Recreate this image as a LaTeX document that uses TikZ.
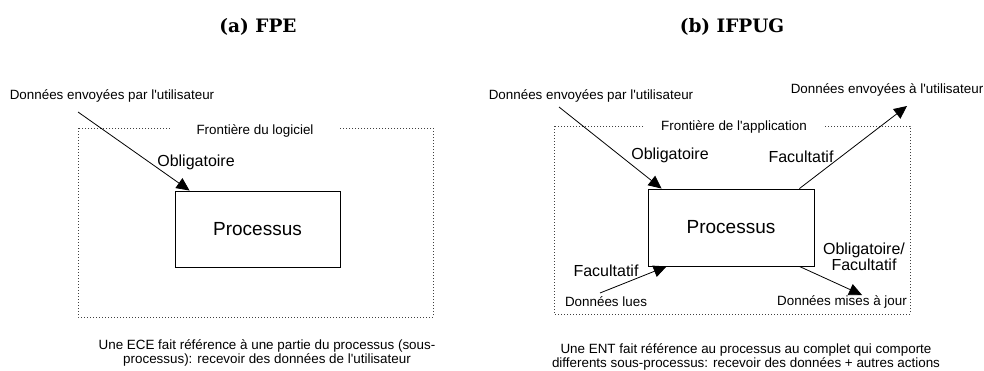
\documentclass[tikz,border=0pt]{standalone}
\usepackage{fontspec}
\setmainfont{Liberation Sans}[Ligatures=TeXOff]
\newfontfamily\titlefont{DejaVu Serif}
\usepackage{tikz}
\usetikzlibrary{arrows.meta}

\begin{document}
\begin{tikzpicture}[x=1pt,y=-1pt,
	lbl/.style={inner sep=1pt,font=\fontsize{13.4}{14}\selectfont},
	big/.style={inner sep=1pt,font=\fontsize{16}{16}\selectfont},
	ttl/.style={inner sep=1pt,font=\titlefont\bfseries\fontsize{18.5}{19}\selectfont},
	proc/.style={draw,line width=0.9pt,minimum width=165pt,minimum height=76pt,inner sep=0pt,font=\fontsize{19}{20}\selectfont},
	bound/.style={draw=black!75,line width=0.9pt,dash pattern=on 1pt off 2pt},
	front/.style={lbl,fill=white,inner ysep=2pt},
	flow/.style={-{Triangle[length=13pt,width=12pt]},line width=0.8pt}]
	\useasboundingbox (0,0) rectangle (984,370);
	%
	% (a) FPE
	\fill (258,27) node[ttl] (titleA) {(a) FPE};
	\draw[bound] (78,128) rectangle (433,317);
	\fill (255,131) node[front,inner xsep=27pt] (frontA) {Frontière du logiciel};
	\fill (112,96) node[lbl] (userinA) {Données envoyées par l'utilisateur};
	\fill (196,162) node[big] (obligA) {Obligatoire};
	\fill (257.5,229) node[proc] (procA) {Processus};
	\fill (267,353) node[lbl,align=center] (captionA) {Une ECE fait référence à une partie du processus (sous-\\processus): recevoir des données de l'utilisateur};
	\coordinate (inA) at (78,112);
	%
	% (b) IFPUG
	\fill (732,27) node[ttl] (titleB) {(b) IFPUG};
	\draw[bound] (554,126) rectangle (910,314);
	\fill (734,127) node[front,inner xsep=16pt] (frontB) {Frontière de l'application};
	\fill (591,96) node[lbl] (userinB) {Données envoyées par l'utilisateur};
	\fill (887,90) node[lbl] (useroutB) {Données envoyées à l'utilisateur};
	\fill (670,155) node[big] (obligB) {Obligatoire};
	\fill (801,157) node[big] (facultB) {Facultatif};
	\fill (731,227.5) node[proc,minimum width=166pt,minimum height=77pt] (procB) {Processus};
	\fill (606,271) node[big] (facultC) {Facultatif};
	\fill (864,257) node[big,align=center,font=\fontsize{16}{16}\selectfont] (obligfacB) {Obligatoire/\\Facultatif};
	\fill (606,302) node[lbl] (luesB) {Données lues};
	\fill (842,302) node[lbl] (majB) {Données mises à jour};
	\fill (746,357) node[lbl,align=center] (captionB) {Une ENT fait référence au processus au complet qui comporte\\differents sous-processus: recevoir des données + autres actions};
	\coordinate (inB) at (559,107);
	\coordinate (outB) at (907,106);
	\coordinate (readB) at (600,293);
	\coordinate (updB) at (862,295);
	%
	\path (inA) edge[flow] ([xshift=15pt]procA.north west);
	\path (inB) edge[flow] ([xshift=14pt]procB.north west);
	\path ([xshift=-15pt]procB.north east) edge[flow] (outB);
	\path (readB) edge[flow] ([xshift=19pt]procB.south west);
	\path ([xshift=-15pt]procB.south east) edge[flow] (updB);
\end{tikzpicture}
\end{document}
